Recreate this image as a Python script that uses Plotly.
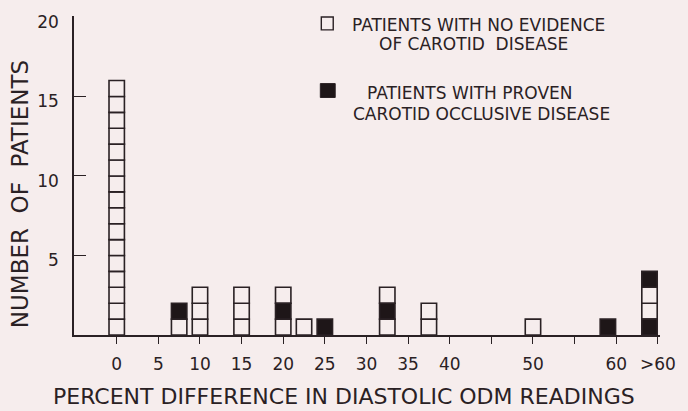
import plotly.graph_objects as go

# Percent difference in diastolic ODM readings (">60" plotted at the far right)
diff_pct = [0, 7.5, 10, 15, 20, 22.5, 25, 32.5, 37.5, 50, 59, 64]
# One letter per patient, stacked bottom to top:
# N = no evidence of carotid disease, P = proven carotid occlusive disease
patient_stacks = ["N" * 16, "NP", "NNN", "NNN", "NPN", "N", "P", "NPN", "NN", "N", "P", "PNNP"]

x_tick_vals = [0, 5, 10, 15, 20, 25, 30, 35, 40, 45, 50, 55, 60, 65]
x_tick_text = ["0", "5", "10", "15", "20", "25", "30", "35", "40", "", "50", "", "60", ">60"]
y_tick_vals = [5, 10, 15, 20]

legend_no_evidence = ["PATIENTS WITH NO EVIDENCE", "OF CAROTID  DISEASE"]
legend_proven = ["PATIENTS WITH PROVEN", "CAROTID OCCLUSIVE DISEASE"]

BG = "#f6eded"
INK = "#2a2124"
FONT = "DejaVu Sans"

W, H = 688, 411
L, R, T, B = 74, 24, 14, 76
PW, PH = W - L - R, H - T - B
Y_TOP = 20.06


def px(xp):
    return (xp - L) / PW


def py(yp):
    return (H - B - yp) / PH


# expand the stacks into one unit box per patient
boxes = {"N": ([], []), "P": ([], [])}
for x, stack in zip(diff_pct, patient_stacks):
    for level, kind in enumerate(stack):
        boxes[kind][0].append(x)
        boxes[kind][1].append(level)

fig = go.Figure()
for kind, fill, name in [("N", BG, "No evidence of carotid disease"),
                         ("P", "#1e1618", "Proven carotid occlusive disease")]:
    xs, bases = boxes[kind]
    fig.add_trace(go.Bar(
        x=xs, y=[1] * len(xs), base=bases, width=1.85, name=name,
        marker=dict(color=fill, line=dict(color=INK, width=1.6)),
        showlegend=False, hoverinfo="x+name",
    ))

fig.update_layout(
    width=W, height=H, margin=dict(l=L, r=R, t=T, b=B),
    paper_bgcolor=BG, plot_bgcolor=BG, barmode="overlay",
    font=dict(family=FONT, color=INK),
    xaxis=dict(range=[-5.13, 65.26], showgrid=False, zeroline=False,
               showline=True, linecolor=INK, linewidth=1.6,
               tickmode="array", tickvals=x_tick_vals, ticktext=x_tick_text,
               ticks="outside", ticklen=7, tickwidth=1.4, tickcolor=INK,
               tickfont=dict(size=17, family=FONT, color=INK), ticklabelstandoff=6),
    yaxis=dict(range=[0, Y_TOP], showgrid=False, zeroline=False,
               showline=True, linecolor=INK, linewidth=1.6,
               tickmode="array", tickvals=y_tick_vals,
               ticks="inside", ticklen=12, tickwidth=1.4, tickcolor=INK,
               tickfont=dict(size=17, family=FONT, color=INK),
               ticklabelstandoff=10, ticklabelshift=5),
)

# axis titles
fig.add_annotation(text="PERCENT DIFFERENCE IN DIASTOLIC ODM READINGS",
                   xref="paper", yref="paper", x=px(346), y=py(397),
                   showarrow=False, xanchor="center", yanchor="middle",
                   font=dict(size=22, family=FONT, color=INK))
fig.add_annotation(text="NUMBER  OF  PATIENTS", textangle=-90,
                   xref="paper", yref="paper", x=px(20), y=py(193),
                   showarrow=False, xanchor="center", yanchor="middle",
                   font=dict(size=23, family=FONT, color=INK))

# key
fig.add_shape(type="rect", xref="paper", yref="paper",
              x0=px(323), x1=px(335), y0=py(28), y1=py(15),
              line=dict(color=INK, width=1.4), fillcolor=BG)
fig.add_shape(type="rect", xref="paper", yref="paper",
              x0=px(322), x1=px(337), y0=py(96), y1=py(82),
              line=dict(color=INK, width=1), fillcolor="#1e1618")
for text, x0, yc in [(legend_no_evidence[0], 352, 23), (legend_no_evidence[1], 379, 42),
                     (legend_proven[0], 367, 91), (legend_proven[1], 353, 113)]:
    fig.add_annotation(text=text, xref="paper", yref="paper", x=px(x0), y=py(yc),
                       showarrow=False, xanchor="left", yanchor="middle",
                       font=dict(size=17, family=FONT, color=INK))

fig.write_html("out.html")
